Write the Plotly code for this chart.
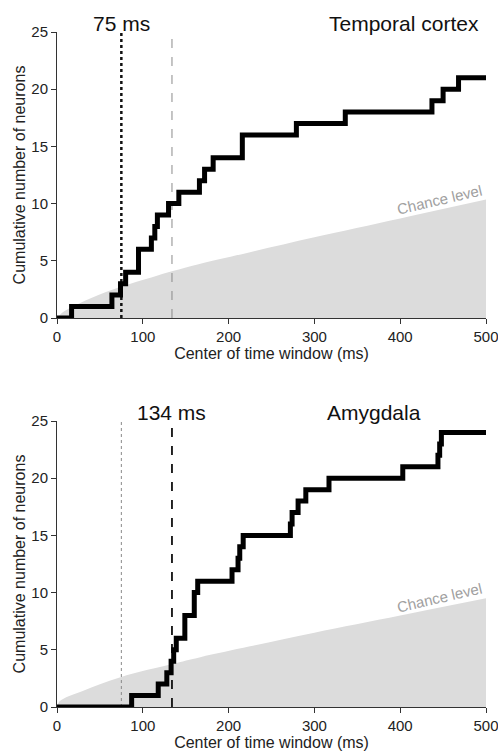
import plotly.graph_objects as go

# ---------------- data ----------------
# Temporal cortex: cumulative count step curve (time of step, count after step)
tc_times = [0, 17, 64, 74, 80, 95, 110, 114, 117, 130, 142, 166, 172, 182, 216, 279, 336, 437, 450, 468, 500]
tc_counts = [0, 1, 2, 3, 4, 6, 7, 8, 9, 10, 11, 12, 13, 14, 16, 17, 18, 19, 20, 21, 21]
tc_chance_x = [0, 5, 15, 40, 75, 110, 135, 165, 225, 300, 400, 500]
tc_chance_y = [0, 0.4, 0.87, 1.75, 2.75, 3.55, 4.1, 4.7, 5.75, 7.05, 8.7, 10.35]

# Amygdala
am_times = [0, 87, 118, 128, 133, 136, 139, 149, 160, 164, 204, 211, 213, 217, 272, 274, 281, 290, 317, 403, 444, 446, 448, 500]
am_counts = [0, 1, 2, 3, 4, 5, 6, 8, 10, 11, 12, 13, 14, 15, 16, 17, 18, 19, 20, 21, 22, 23, 24, 24]
am_chance_x = [0, 3, 30, 74, 134, 167, 225, 300, 400, 500]
am_chance_y = [0, 0.5, 1.4, 2.6, 3.75, 4.35, 5.3, 6.5, 8.0, 9.5]

latencies = [75, 134]          # ms: temporal cortex, amygdala
x_ticks = [0, 100, 200, 300, 400, 500]
y_ticks = [0, 5, 10, 15, 20, 25]
panel_names = ["Temporal cortex", "Amygdala"]
latency_labels = ["75 ms", "134 ms"]

FONT = "Liberation Sans, Arial, sans-serif"

fig = go.Figure()

panels = [
    ("x", "y", tc_times, tc_counts, tc_chance_x, tc_chance_y, 0),
    ("x2", "y2", am_times, am_counts, am_chance_x, am_chance_y, 1),
]

for xa, ya, t, c, cx, cy, idx in panels:
    # chance level fill
    fig.add_trace(go.Scatter(x=cx, y=cy, xaxis=xa, yaxis=ya, mode="lines",
                             line=dict(width=0, shape="spline", color="#dcdcdc"),
                             fill="tozeroy", fillcolor="#dcdcdc",
                             hoverinfo="skip", showlegend=False))
    own = latencies[idx]
    other = latencies[1 - idx]
    # other region's latency (thin grey)
    fig.add_trace(go.Scatter(x=[other, other], y=[0, 25], xaxis=xa, yaxis=ya, mode="lines",
                             line=dict(color="#8a8a8a", width=1,
                                       dash="dash" if idx == 0 else "dot"),
                             showlegend=False, hoverinfo="skip"))
    # own latency (bold)
    fig.add_trace(go.Scatter(x=[own, own], y=[0, 25], xaxis=xa, yaxis=ya, mode="lines",
                             line=dict(color="#111111", width=2.5 if idx == 0 else 1.8,
                                       dash="dot" if idx == 0 else "dash"),
                             showlegend=False, hoverinfo="skip"))
    # cumulative curve
    fig.add_trace(go.Scatter(x=t, y=c, xaxis=xa, yaxis=ya, mode="lines",
                             line=dict(color="black", width=5, shape="hv"),
                             cliponaxis=False, showlegend=False))

axis_common = dict(showgrid=False, zeroline=False, showline=True, linecolor="#333333",
                   linewidth=1, ticks="outside", ticklen=5, tickwidth=1, tickcolor="#333333",
                   automargin=False, ticklabeloverflow="allow",
                   tickfont=dict(family=FONT, size=15, color="#222222"))

for i, (xa_name, ya_name, dom) in enumerate([("xaxis", "yaxis", [0.5763, 1.0]),
                                             ("xaxis2", "yaxis2", [0.0, 0.4237])]):
    fig.update_layout({
        xa_name: dict(axis_common, range=[0, 500], tickvals=x_ticks, domain=[0, 1],
                      anchor="y" if i == 0 else "y2",
                      title=dict(text="Center of time window (ms)", standoff=3,
                                 font=dict(family=FONT, size=16, color="#222222"))),
        ya_name: dict(axis_common, range=[0, 25], tickvals=y_ticks, domain=dom,
                      anchor="x" if i == 0 else "x2",
                      title=dict(text="Cumulative number of neurons", standoff=1,
                                 font=dict(family=FONT, size=16, color="#222222"))),
    })

annotations = []
for i, (xr, yr) in enumerate([("x", "y domain"), ("x2", "y2 domain")]):
    annotations.append(dict(x=latencies[i], y=1.031, xref=xr, yref=yr, text=latency_labels[i],
                            showarrow=False, yanchor="middle",
                            font=dict(family=FONT, size=21, color="#111111")))
    annotations.append(dict(x=405 if i == 0 else 370, y=1.031, xref=xr, yref=yr,
                            text=panel_names[i], showarrow=False, yanchor="middle",
                            font=dict(family=FONT, size=21, color="#111111")))
    annotations.append(dict(x=446, y=(10.4 if i == 0 else 9.6) / 25, xref=xr, yref=yr,
                            text="Chance level", showarrow=False, textangle=-13,
                            font=dict(family=FONT, size=15, color="#a0a0a0")))

fig.update_layout(width=498, height=751, margin=dict(l=57, r=12, t=32, b=44),
                  paper_bgcolor="white", plot_bgcolor="white",
                  annotations=annotations, showlegend=False)

fig.write_html("out.html", config={"displayModeBar": False},
               post_script="document.body.style.margin='0';document.body.style.overflow='hidden';")
